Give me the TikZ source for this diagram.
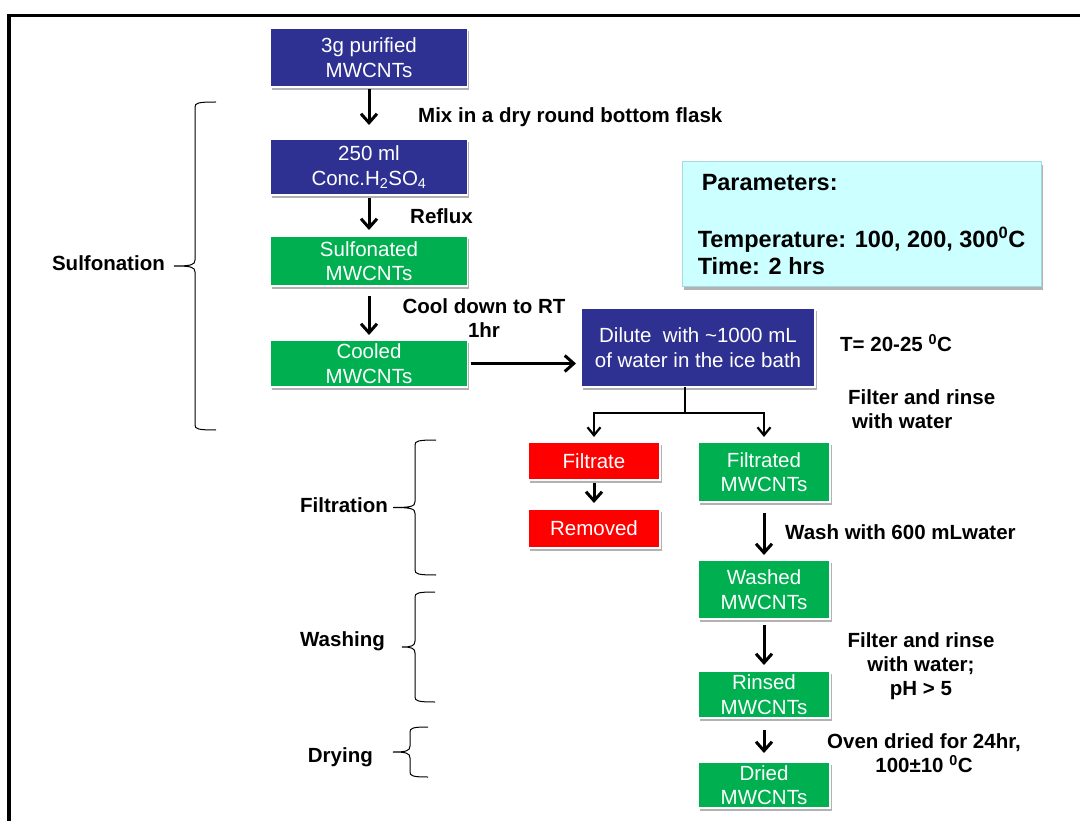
\documentclass[tikz,border=0pt]{standalone}
\usepackage{fontspec}
\setmainfont{Liberation Sans}
\usetikzlibrary{arrows.meta,shadows}
\definecolor{navy}{HTML}{2E3192}
\definecolor{leaf}{HTML}{00B050}
\definecolor{alarm}{HTML}{FF0000}
\definecolor{paramfill}{HTML}{CCFFFF}
\definecolor{paramline}{HTML}{A8D8DE}
\tikzset{
  stage/.style={draw=white, line width=1.5pt, text=white, align=center,
    inner sep=0pt, outer sep=0pt, font=\fontsize{20.5}{24.5}\selectfont,
    drop shadow={shadow xshift=1.5pt, shadow yshift=-3pt, opacity=0.3, fill=black}},
  navystage/.style={stage, fill=navy},
  greenstage/.style={stage, fill=leaf},
  redstage/.style={stage, fill=alarm},
  note/.style={font=\bfseries\fontsize{20.5}{24}\selectfont, align=center, inner sep=0pt},
  flow/.style={line width=3pt, -{Straight Barb[length=9pt,width=16pt]}},
  branch/.style={line width=2.2pt, -{Straight Barb[length=8pt,width=13pt]}},
}
\newcommand{\phasebrace}[5]{%
  \draw[line width=1pt] (#2,#3) .. controls (#1+3,#3) and (#1,#3+1) .. (#1,#3+5)
    -- (#1,{(#3+#4)/2-6}) .. controls (#1,{(#3+#4)/2-1}) and (#1-4,{(#3+#4)/2}) .. (#5,{(#3+#4)/2})
    .. controls (#1-4,{(#3+#4)/2}) and (#1,{(#3+#4)/2+1}) .. (#1,{(#3+#4)/2+6})
    -- (#1,#4-5) .. controls (#1,#4-1) and (#1+3,#4) .. (#2,#4);}
\begin{document}
\begin{tikzpicture}[x=1pt,y=-1pt]
  \useasboundingbox (0,0) rectangle (1080,821);
  \draw[line width=3.5pt] (9,821) -- (9,15.5) -- (1080,15.5);
  \draw
    (369,57.5) node[navystage, minimum width=197pt, minimum height=59pt] (start) {3g purified\\MWCNTs}
    (369,167) node[navystage, minimum width=197pt, minimum height=56pt] (acid) {250 ml\\Conc.H\textsubscript{2}SO\textsubscript{4}}
    (369,261) node[greenstage, minimum width=197pt, minimum height=50pt] (sulfonated) {Sulfonated\\MWCNTs}
    (369,363.5) node[greenstage, minimum width=197pt, minimum height=47pt] (cooled) {Cooled\\MWCNTs}
    (698,347.5) node[navystage, minimum width=234pt, minimum height=79pt] (dilute) {Dilute\ \ with \textasciitilde1000 mL\\of water in the ice bath}
    (594,461) node[redstage, minimum width=132pt, minimum height=38pt] (filtrate) {Filtrate}
    (594,528.5) node[redstage, minimum width=132pt, minimum height=39pt] (removed) {Removed}
    (764,472) node[greenstage, minimum width=132pt, minimum height=60pt] (filtrated) {Filtrated\\MWCNTs}
    (764,589.5) node[greenstage, minimum width=132pt, minimum height=59pt] (washed) {Washed\\MWCNTs}
    (764,694.5) node[greenstage, minimum width=132pt, minimum height=47pt] (rinsed) {Rinsed\\MWCNTs}
    (764,785) node[greenstage, minimum width=132pt, minimum height=46pt] (dried) {Dried\\MWCNTs};
  \node[fill=paramfill, draw=paramline, line width=1pt, minimum width=359pt, minimum height=125pt,
    align=left, inner sep=0pt, font=\bfseries\fontsize{23.5}{27}\selectfont,
    drop shadow={shadow xshift=1.5pt, shadow yshift=-3pt, opacity=0.3, fill=black}]
    (params) at (861.5,224.5) {\hspace*{4pt}Parameters:\\[30pt]Temperature: 100, 200, 300\textsuperscript{0}C\\Time: 2 hrs};
  \draw
    (418,117) node[note, anchor=west] (mix) {Mix in a dry round bottom flask}
    (410,216) node[note, anchor=west] (reflux) {Reflux}
    (484,318.5) node[note] (cool) {Cool down to RT\\1hr}
    (840,343) node[note, anchor=west] (temp) {T= 20-25 \textsuperscript{0}C}
    (848,409) node[note, anchor=west, align=left] (rinse) {Filter and rinse\\\hspace*{4pt}with water}
    (785,532) node[note, anchor=west] (wash) {Wash with 600 mLwater}
    (921,666) node[note] (rinseph) {Filter and rinse\\with water;\\pH > 5}
    (924,753.5) node[note] (oven) {Oven dried for 24hr,\\100±10 \textsuperscript{0}C}
    (165,263) node[note, anchor=east] (sulfonation) {Sulfonation}
    (388,505) node[note, anchor=east] (filtration) {Filtration}
    (385,641) node[note, anchor=east] (washing) {Washing}
    (373,757) node[note, anchor=east] (drying) {Drying};
  \phasebrace{195}{216}{102}{430}{174}
  \phasebrace{415}{436}{440}{575}{393}
  \phasebrace{415}{435}{592}{702}{402}
  \phasebrace{410}{428}{727}{777}{393}
  \coordinate (split) at (685,413);
  \begin{scope}[flow]
    \draw[shorten <=2pt, shorten >=14pt] (start) to (acid);
    \draw[shorten <=3pt, shorten >=6pt] (acid) to (sulfonated);
    \draw[shorten <=10pt, shorten >=5pt] (sulfonated) to (cooled);
    \draw[shorten <=3pt, shorten >=5pt] (cooled.east) to (cooled.east -| dilute.west);
    \draw[shorten <=3pt, shorten >=6pt] (filtrate) to (removed);
    \draw[shorten <=11pt, shorten >=5pt] (filtrated) to (washed);
    \draw[shorten <=6pt, shorten >=6pt] (washed) to (rinsed);
    \draw[shorten <=12pt, shorten >=9pt] (rinsed) to (dried);
  \end{scope}
  \draw[line width=2.2pt] (split |- dilute.south) -- (split);
  \draw[branch, shorten >=5pt] (split) -| (filtrate);
  \draw[branch, shorten >=5pt] (split) -| (filtrated);
\end{tikzpicture}
\end{document}
